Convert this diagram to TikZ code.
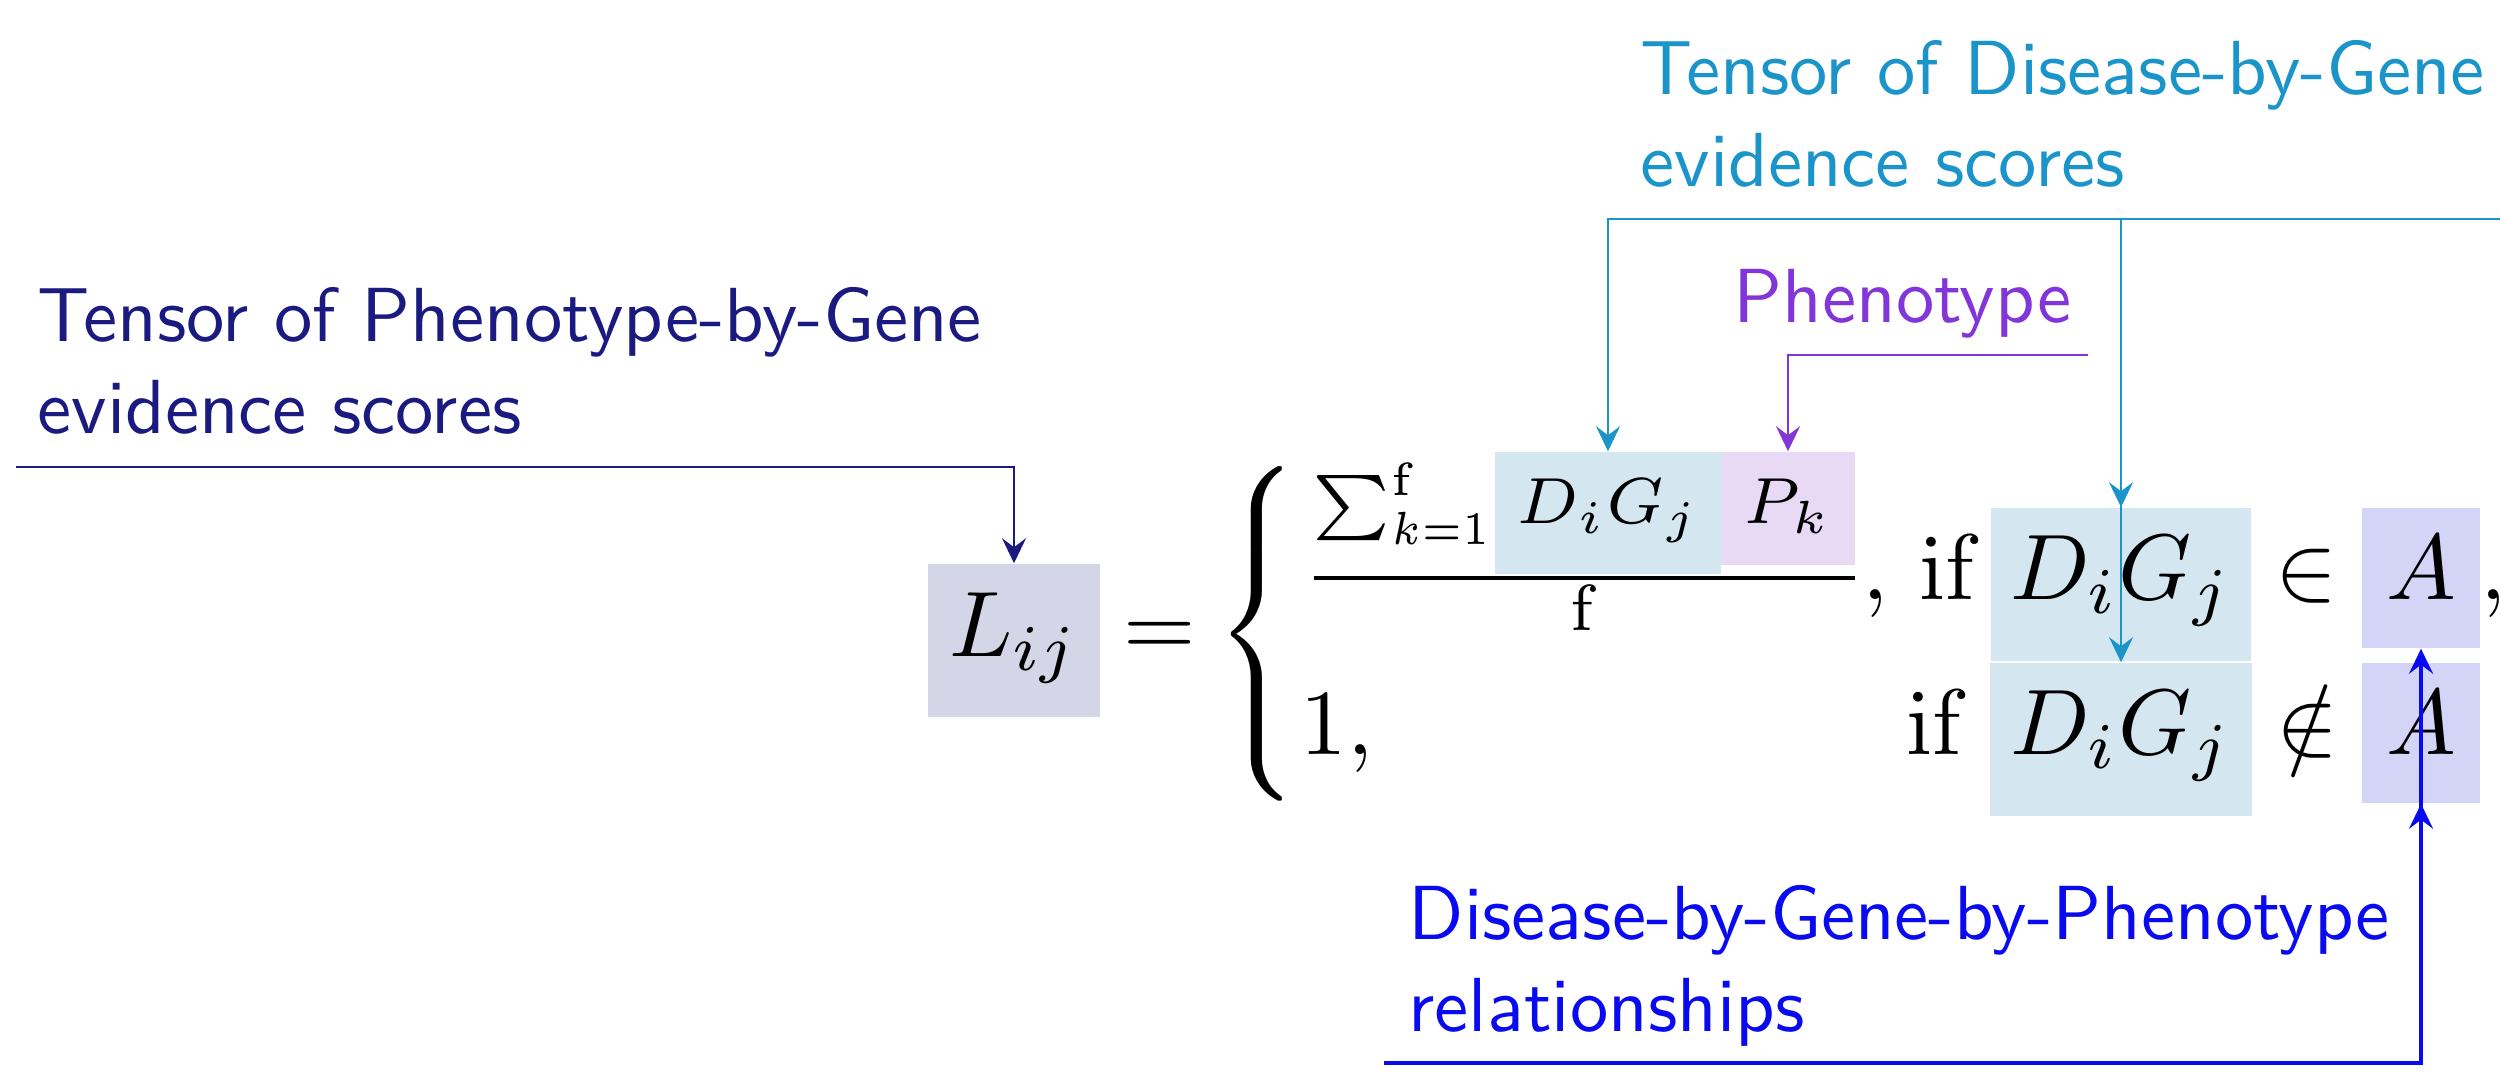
\documentclass[tikz,border=0pt]{standalone}
\usepackage{graphicx}
\usepackage{exscale}
\usepackage{xcolor}
\usetikzlibrary{arrows.meta}
\definecolor{pgnavy}{HTML}{1A1A80}
\definecolor{dgcyan}{HTML}{1B95C9}
\definecolor{phpurple}{HTML}{8236DA}
\definecolor{relblue}{HTML}{0A0AF0}
\definecolor{lfill}{HTML}{D5D5E8}
\definecolor{dgfill}{HTML}{D4E6F0}
\definecolor{pkfill}{HTML}{E8DAF5}
\definecolor{afill}{HTML}{D4D4F6}
% the equation and the notes are set at 10pt and blown up
\newcommand{\eqbig}[1]{\scalebox{2.646}{$#1$}}
\newcommand{\notebig}[1]{\scalebox{2.18}{\sffamily\begin{tabular}[t]{@{}l@{}}#1\end{tabular}}}

\begin{document}
\begin{tikzpicture}[
    x=0.01cm, y=-0.01cm,
    eqpart/.style={inner sep=0pt},
    hlbox/.style={eqpart, anchor=base},
    note/.style={inner sep=0pt, anchor=base west},
    link/.style={-{Stealth[length=0.25cm, width=0.24cm, inset=0.09cm]}, line width=0.8pt}
]
\useasboundingbox (0,0) rectangle (2500,1092);

% left hand side
\node[hlbox, fill=lfill, text height=0.93cm, text depth=0.60cm, minimum width=1.71cm] (lij) at (1014,657) {\eqbig{L_{ij}}};
\node[eqpart, anchor=base] (eq) at (1160,657) {\eqbig{=}};
\node[eqpart] (brace) at (1262,634) {\eqbig{\left\{\vcenter{\hrule height 0.70cm depth 0.70cm width 0pt}\right.}};

% first case
\node[eqpart, anchor=base west] (sumk) at (1312,524) {\eqbig{\scriptstyle\sum_{\scalebox{0.85}[1]{$\scriptscriptstyle k=1$}}^{\mathrm{f}}}};
\node[hlbox, fill=dgfill, text height=0.72cm, text depth=0.50cm, minimum width=2.26cm] (numdg) at (1608,524) {\eqbig{\scriptstyle D_iG_j}};
\node[hlbox, fill=pkfill, text height=0.72cm, text depth=0.41cm, minimum width=1.34cm] (numpk) at (1788,524) {\eqbig{\scriptstyle P_k}};
\draw[line width=1pt] (1314,578) -- (1855,578);
\node[eqpart, anchor=base] (denf) at (1585,631) {\eqbig{\scriptstyle\mathrm{f}}};
\node[eqpart, anchor=base west] (ifa) at (1862,600) {\eqbig{,\,\mathrm{if}}};
\node[hlbox, fill=dgfill, text height=0.92cm, text depth=0.61cm, minimum width=2.60cm] (dga) at (2121,600) {\eqbig{D_iG_j}};
\node[eqpart, anchor=base] (ina) at (2306,600) {\eqbig{\in}};
\node[hlbox, fill=afill, text height=0.92cm, text depth=0.48cm, minimum width=1.18cm] (aa) at (2421,600) {\eqbig{A}};
\node[eqpart, anchor=base west] (comma) at (2480,600) {\eqbig{,}};

% second case
\node[eqpart, anchor=base west] (one) at (1300,755) {\eqbig{1,}};
\node[eqpart, anchor=base west] (ifb) at (1906,755) {\eqbig{\mathrm{if}}};
\node[hlbox, fill=dgfill, text height=0.92cm, text depth=0.61cm, minimum width=2.61cm] (dgb) at (2121,755) {\eqbig{D_iG_j}};
\node[eqpart, anchor=base] (notin) at (2307,755) {\eqbig{\notin}};
\node[hlbox, fill=afill, text height=0.92cm, text depth=0.48cm, minimum width=1.18cm] (ab) at (2421,755) {\eqbig{A}};

% annotations
\node[note, text=pgnavy] (pgnote) at (37,342) {\notebig{Tensor of Phenotype-by-Gene\\evidence scores}};
\node[note, text=dgcyan] (dgnote) at (1640,95) {\notebig{Tensor of Disease-by-Gene\\evidence scores}};
\node[note, text=phpurple] (phnote) at (1733,323) {\notebig{Phenotype}};
\node[note, text=relblue] (relnote) at (1408,940) {\notebig{Disease-by-Gene-by-Phenotype\\relationships}};

\coordinate (pgfrom) at (16,467);
\coordinate (dgfrom) at (2500,219);
\coordinate (phfrom) at (2088,355);
\coordinate (relfrom) at (1384,1063);

\draw[link, pgnavy] (pgfrom) -| (lij.north);
\draw[link, dgcyan] (dgfrom) -| (numdg.north);
\draw[link, dgcyan] (dgfrom) -| (dga.north);
\draw[link, dgcyan] (dgfrom) -| (dgb.north);
\draw[link, phpurple] (phfrom) -| (numpk.north);
\draw[link, relblue, line width=1pt] (relfrom) -| (aa.south);
\draw[link, relblue, line width=1pt] (relfrom) -| (ab.south);
\end{tikzpicture}
\end{document}
